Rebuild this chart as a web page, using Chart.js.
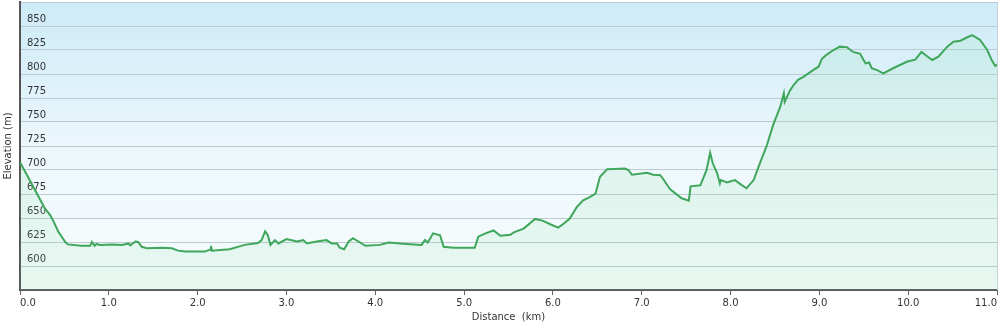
<!DOCTYPE html>
<html>
<head>
<meta charset="utf-8">
<script src="https://cdn.jsdelivr.net/npm/chart.js@4"></script>
<style>
  html, body { margin: 0; padding: 0; background: #ffffff; }
  #wrap { width: 1000px; height: 325px; }
</style>
</head>
<body>
<div id="wrap"><canvas id="myChart1" width="1000" height="325"></canvas></div>
<script>
// distance along the track (km) and elevation (m)
const distanceKm = [
  0.00, 0.06, 0.17, 0.28, 0.34, 0.38, 0.43, 0.51, 0.54, 0.69,
  0.79, 0.81, 0.84, 0.86, 0.90, 1.03, 1.15, 1.22, 1.24, 1.30,
  1.33, 1.37, 1.43, 1.60, 1.71, 1.78, 1.86, 1.95, 2.08, 2.14,
  2.15, 2.16, 2.36, 2.53, 2.68, 2.72, 2.76, 2.79, 2.82, 2.87,
  2.91, 3.00, 3.12, 3.19, 3.23, 3.34, 3.45, 3.51, 3.57, 3.60,
  3.65, 3.70, 3.75, 3.81, 3.89, 4.05, 4.15, 4.35, 4.52, 4.56,
  4.59, 4.62, 4.65, 4.73, 4.77, 4.88, 5.12, 5.16, 5.24, 5.33,
  5.41, 5.52, 5.56, 5.67, 5.80, 5.89, 5.97, 6.06, 6.12, 6.19,
  6.27, 6.34, 6.42, 6.48, 6.53, 6.61, 6.70, 6.81, 6.85, 6.89,
  7.06, 7.13, 7.21, 7.26, 7.32, 7.45, 7.53, 7.55, 7.66, 7.73,
  7.77, 7.80, 7.85, 7.88, 7.89, 7.96, 8.05, 8.13, 8.18, 8.26,
  8.33, 8.41, 8.48, 8.56, 8.60, 8.61, 8.67, 8.71, 8.76, 8.82,
  8.93, 8.99, 9.03, 9.08, 9.16, 9.23, 9.31, 9.38, 9.46, 9.49,
  9.52, 9.56, 9.59, 9.65, 9.72, 9.83, 9.99, 10.08, 10.15, 10.21,
  10.27, 10.34, 10.44, 10.51, 10.59, 10.66, 10.72, 10.81, 10.89, 10.94,
  10.98, 11.00
];
const elevationM = [
  708, 698, 679, 660, 653, 646, 636, 625, 622.5, 621,
  621, 625, 621, 623, 622, 622.5, 622, 623.5, 621.5, 625.5,
  625, 620, 618.5, 619, 618.5, 616, 615, 615, 615, 617,
  621, 616, 617.5, 622, 624, 627, 636, 632, 622, 627,
  623.5, 628, 625.5, 627, 623.5, 625.5, 627, 623.5, 623.5, 619,
  617.5, 625.5, 629, 625.5, 621, 622, 624.5, 623, 622, 627,
  624.5, 629, 634, 632, 620, 619, 619, 630.5, 634, 637,
  631.5, 632.5, 635, 639, 649, 647, 643.5, 640, 644, 649.5,
  661.5, 668.5, 672, 675.5, 693, 700.7, 701, 701.5, 700, 695,
  697, 695, 694.5, 688, 680, 670.5, 668, 683, 684, 700,
  718, 707, 696.5, 686, 689.5, 687, 689.5, 684, 681, 689.5,
  707, 726, 747, 766, 780, 771, 783, 788.5, 794, 797,
  804, 807.6, 816, 820, 825, 828.5, 828, 823, 821, 816,
  811, 812, 806, 804, 800.7, 806, 813, 815, 823, 818.7,
  814.6, 818, 828.5, 833.7, 834.7, 838, 840.6, 835.5, 825, 814.6,
  808.3, 810
];
const yMin = 575;
const yMax = 875;
const yStep = 25;

// background gradient and right border of the plot
const plotBackground = {
  id: "plotBackground",
  beforeDraw(chart) {
    const { ctx, chartArea: a } = chart;
    const g = ctx.createLinearGradient(0, a.top, 0, a.bottom);
    g.addColorStop(0, "#cdebf8");
    g.addColorStop(0.55, "#eef8fc");
    g.addColorStop(1, "#f6fcfd");
    ctx.save();
    ctx.fillStyle = g;
    ctx.fillRect(a.left, a.top, a.right - a.left, a.bottom - a.top);
    ctx.restore();
  },
  afterDraw(chart) {
    const { ctx, chartArea: a } = chart;
    ctx.save();
    ctx.strokeStyle = "#c8d2d6";
    ctx.lineWidth = 1;
    ctx.beginPath();
    ctx.moveTo(a.right + 0.5, a.top);
    ctx.lineTo(a.right + 0.5, a.bottom);
    ctx.stroke();
    ctx.restore();
  }
};

let dataArray = [];
for (let i = 0; i < distanceKm.length; i++) {
  dataArray.push({ x: distanceKm[i], y: elevationM[i] });
}

new Chart(document.getElementById("myChart1"), {
  type: "line",
  data: {
    datasets: [
      {
        label: "Elevation",
        data: dataArray,
        borderColor: "#3fa65b",
        borderWidth: 2,
        backgroundColor: "rgba(120, 220, 150, 0.12)",
        fill: "start",
        pointRadius: 0,
        tension: 0
      }
    ]
  },
  options: {
    responsive: false,
    animation: false,
    devicePixelRatio: 1,
    layout: { padding: { top: 2, right: 3, left: 0, bottom: 0 } },
    plugins: {
      legend: { display: false },
      tooltip: { enabled: false }
    },
    scales: {
      x: {
        type: "linear",
        min: 0,
        max: 11,
        afterFit(scale) {
          scale.height = 35;
          scale.paddingLeft = 0;
          scale.paddingRight = 0;
        },
        ticks: {
          stepSize: 1,
          align: "inner",
          maxRotation: 0,
          padding: 2,
          color: "#333333",
          font: { family: "DejaVu Sans", size: 10 },
          callback: (v) => Number(v).toFixed(1)
        },
        grid: {
          drawOnChartArea: false,
          tickLength: 5,
          color: "#666666"
        },
        border: { color: "#5a5a5a", width: 2 },
        title: {
          display: true,
          text: "Distance  (km)",
          color: "#333333",
          font: { family: "DejaVu Sans", size: 10 },
          padding: { top: 0, bottom: 2 }
        }
      },
      y: {
        min: yMin,
        max: yMax,
        afterFit(scale) {
          scale.width = 20;
          scale.paddingTop = 0;
          scale.paddingBottom = 0;
        },
        ticks: {
          stepSize: yStep,
          mirror: true,
          padding: 7,
          labelOffset: -7,
          color: "#333333",
          font: { family: "DejaVu Sans", size: 10 },
          callback: (v) => (v === yMin || v === yMax ? "" : v)
        },
        grid: {
          color: "#bccbd1",
          lineWidth: 1,
          drawTicks: false
        },
        border: { color: "#555555", width: 2 },
        title: {
          display: true,
          text: "Elevation (m)",
          color: "#333333",
          font: { family: "DejaVu Sans", size: 10 },
          padding: { top: 2, bottom: 0 }
        }
      }
    }
  },
  plugins: [plotBackground]
});
</script>
</body>
</html>
